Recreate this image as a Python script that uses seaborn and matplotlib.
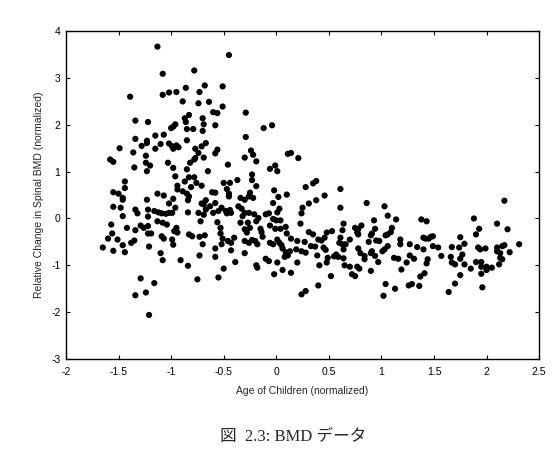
import matplotlib
matplotlib.use("Agg")
import matplotlib.pyplot as plt
import seaborn as sns
import pandas as pd

age = [
    -1.13, -1.08, -0.78, -1.39, -1.08, -1.02, -0.95, -0.86, -0.73, -0.68, -0.89, -0.74, -0.83, -0.87, -0.70, -0.86,
    -0.69, -1.34, -1.22, -0.96, -0.98, -1.00, -0.85, -0.79, -0.70, -1.15, -1.07, -1.34, -1.23, -1.23, -0.85, -1.28,
    -1.15, -1.10, -1.02, -0.99, -0.95, -0.98, -0.93, -0.77, -0.71, -1.49, -1.36, -1.24, -0.74, -0.77, -0.69, -1.58,
    -1.55, -1.24, -1.20, -1.03, -0.82, -0.78, -0.98, -1.35, -1.23, -0.85, -0.96, -0.83, -0.78, -1.44, -0.87, -0.76,
    # block 2
    -1.44, -1.55, -1.50, -1.46, -1.46, -1.55, -1.48, -1.46, -1.57, -1.56, -1.60, -1.51, -1.65, -1.55, -1.46, -1.44,
    -1.42, -1.38, -1.35, -1.34, -1.34, -1.32, -1.29, -1.26, -1.23, -1.22, -1.22, -1.22, -1.22, -1.19, -1.21, -1.13,
    -1.07, -1.16, -1.12, -1.09, -1.05, -1.02, -0.99, -1.13, -1.08, -1.04, -1.09, -1.07, -1.10, -1.08, -0.97, -0.95,
    -0.99, -0.98, -0.94, -1.02, -0.98, -0.96, -0.94, -0.94, -0.89, -0.85, -0.83, -0.84, -0.81, -0.71, -0.84, -0.74,
    -0.71, -0.83, -0.80, -0.73, -0.70, -0.73, -0.91, -0.84, -1.29, -1.16, -0.75, -1.24, -1.34, -1.21,
    # block 3
    -0.45, -0.51, -0.64, -0.51, -0.60, -0.56, -0.29, -0.58, -0.12, -0.04, -0.29, -0.67, -0.56, -0.58, -0.24, -0.22,
    -0.30, -0.19, 0.11, 0.14, 0.21, -0.46, -0.65, -0.06, -0.01, 0.01, -0.23, -0.23, -0.50, -0.44, -0.37,
    # block 4
    -0.19, -0.47, -0.45, -0.45, -0.61, -0.58, -0.25, -0.26, -0.34, -0.30, -0.22, -0.02, 0.02, 0.10, -0.03, -0.67,
    -0.69, -0.63, -0.58, -0.67, -0.69, -0.60, -0.55, -0.52, -0.48, -0.44, -0.47, -0.43, -0.36, -0.33, -0.30, -0.26,
    -0.32, -0.21, -0.17, -0.19, -0.10, -0.07, 0.03, 0.01, -0.03, 0.00, 0.04, -0.06, -0.01, 0.04, 0.09, 0.10,
    -0.34, -0.27, -0.30, -0.25, -0.28, -0.15, -0.14, -0.72, -0.68, -0.56, -0.53, -0.53, -0.51, -0.58, -0.58, -0.52,
    -0.46, -0.43, -0.40, -0.43, -0.39, -0.50, -0.55, -0.30, -0.26, -0.23, -0.20, -0.18, -0.13, -0.30, -0.19, -0.18,
    -0.10, -0.07, -0.06, -0.03, 0.01, 0.03, 0.05, 0.06, 0.09, 0.08, 0.11, 0.13, 0.14, 0.20, 0.19, 0.24,
    0.27, 0.28, 0.01, -0.02, 0.06, 0.14, 0.20, 0.23, 0.24, 0.25, 0.28, 0.31, 0.31, 0.24, 0.28,
    # block 6
    0.35, 0.38, 0.61, 0.46, 0.38, 0.61, 0.86, 1.03, 1.06, 0.93, 1.14, 0.64, 0.63, 0.75, 0.78, 0.81,
    0.77, 0.78, 0.94, 0.91, 0.90, 1.10, 1.09, 1.06, 1.04, 0.35, 0.40, 0.43, 0.46, 0.48, 0.53, 0.33,
    0.37, 0.45, 0.47, 0.39, 0.49, 0.48, 0.41, 0.61, 0.60, 0.63, 0.66, 0.64, 0.57, 0.59, 0.55, 0.64,
    0.70, 0.78, 0.80, 0.84, 0.84, 0.88, 0.95, 0.98, 0.91, 0.90, 0.94, 0.97, 1.01, 1.03, 1.06, 0.65,
    0.70, 0.72, 0.75, 0.77, 0.79, 0.90, 0.52, 0.40, 1.18, 1.18, 1.12, 1.16, 1.27, 1.24, 1.19, 1.27,
    1.31, 1.04, 1.13, 1.02, 1.26, 1.29,
    # block 8
    2.17, 1.38, 1.43, 1.88, 2.10, 1.93, 2.20, 1.90, 1.40, 1.42, 1.45, 1.47, 1.49, 1.75, 1.79, 1.34,
    1.40, 1.49, 1.54, 1.67, 1.74, 1.92, 1.94, 1.99, 2.10, 2.15, 2.17, 2.10, 2.13, 2.22, 2.31, 1.57,
    1.44, 1.43, 1.66, 1.75, 1.77, 1.67, 1.70, 1.79, 1.90, 1.95, 2.13, 2.15, 1.85, 1.95, 2.00, 2.00,
    2.05, 2.12, 1.41, 1.37, 1.36, 1.75, 1.95, 1.70, 1.96, 1.64,
]

bmd_change = [
    3.67, 3.09, 3.16, 2.60, 2.64, 2.69, 2.70, 2.79, 2.70, 2.84, 2.50, 2.46, 2.21, 2.14, 2.14, 2.06,
    2.01, 2.09, 2.06, 2.01, 1.96, 1.93, 1.91, 1.91, 1.87, 1.77, 1.79, 1.70, 1.66, 1.61, 1.67, 1.55,
    1.49, 1.59, 1.60, 1.54, 1.56, 1.49, 1.52, 1.49, 1.54, 1.50, 1.41, 1.34, 1.40, 1.29, 1.30, 1.26,
    1.21, 1.19, 1.13, 1.19, 1.19, 1.26, 1.08, 1.09, 1.01, 1.05, 0.90, 0.88, 0.88, 0.79, 0.79, 0.76,
    # block 2
    0.65, 0.56, 0.53, 0.44, 0.40, 0.25, 0.23, 0.05, -0.13, -0.32, -0.43, -0.45, -0.62, -0.69, -0.57, -0.72,
    -0.20, -0.52, -0.47, -0.25, 0.19, 0.11, -0.15, -0.20, 0.40, 0.19, 0.04, -0.16, -0.32, -0.32, -0.60, 0.53,
    0.49, 0.16, 0.13, 0.11, 0.10, 0.12, 0.12, -0.06, -0.09, -0.13, -0.38, -0.43, -0.74, -0.89, -0.27, -0.20,
    -0.45, -0.56, -0.30, 0.32, 0.42, 0.23, 0.70, 0.62, 0.58, 0.53, 0.47, 0.39, 0.67, 0.70, 0.13, 0.12,
    0.32, -0.34, -0.38, -0.39, -0.55, -0.79, -0.89, -1.01, -1.28, -1.38, -1.30, -1.58, -1.64, -2.06,
    # block 3
    3.49, 2.82, 2.49, 2.39, 2.27, 2.25, 2.26, 1.99, 1.93, 1.99, 1.74, 1.61, 1.47, 1.39, 1.45, 1.36,
    1.30, 1.22, 1.38, 1.40, 1.29, 1.15, 1.01, 1.06, 1.13, 1.01, 0.94, 0.82, 0.76, 0.76, 0.82,
    # block 4
    0.69, 0.63, 0.53, 0.47, 0.56, 0.55, 0.55, 0.47, 0.44, 0.40, 0.44, 0.60, 0.46, 0.51, 0.33, 0.39,
    0.30, 0.26, 0.33, 0.19, 0.08, 0.12, 0.16, 0.23, 0.16, 0.18, 0.11, 0.12, 0.26, 0.21, 0.12, 0.12,
    0.05, 0.09, 0.01, -0.06, 0.09, 0.11, 0.21, 0.13, -0.01, -0.04, -0.04, -0.15, -0.22, -0.22, -0.18, -0.32,
    -0.09, -0.09, -0.23, -0.20, -0.30, -0.22, -0.29, -0.06, -0.36, -0.08, -0.20, -0.32, -0.43, -0.64, -0.82, -0.55,
    -0.48, -0.52, -0.41, -0.68, -0.93, -1.07, -1.26, -0.48, -0.52, -0.46, -0.48, -0.55, -0.39, -0.74, -1.00, -1.05,
    -0.86, -0.91, -0.52, -0.55, -0.45, -0.52, -0.57, -0.64, -0.72, -0.82, -0.79, -0.70, -0.43, -0.48, -0.66, -0.70,
    -0.50, -0.73, -0.94, -1.19, -1.10, -1.16, -0.94, -0.11, 0.11, 0.23, 0.67, 0.32, -0.29, -1.62, -1.55,
    # block 6
    0.75, 0.80, 0.63, 0.49, 0.39, 0.23, 0.33, 0.26, 0.06, -0.04, -0.02, -0.11, -0.25, -0.20, -0.23, -0.15,
    -0.30, -0.34, -0.22, -0.32, -0.36, -0.20, -0.29, -0.34, -0.36, -0.34, -0.45, -0.47, -0.41, -0.30, -0.27, -0.59,
    -0.60, -0.62, -0.67, -0.79, -0.84, -0.94, -1.00, -0.41, -0.52, -0.55, -0.55, -0.66, -0.77, -0.82, -0.81, -0.85,
    -0.45, -0.64, -0.74, -0.80, -0.87, -0.50, -0.47, -0.48, -0.70, -0.74, -0.80, -0.93, -0.70, -0.66, -0.59, -1.00,
    -1.03, -1.19, -1.23, -1.03, -1.07, -1.12, -1.23, -1.43, -0.45, -0.55, -0.84, -0.86, -0.55, -0.94, -1.09, -0.79,
    -0.86, -1.40, -1.50, -1.65, -1.43, -1.40,
    # block 8
    0.38, -0.02, -0.06, 0.00, -0.11, -0.22, -0.23, -0.34, -0.41, -0.43, -0.43, -0.39, -0.38, -0.40, -0.54, -0.61,
    -0.66, -0.59, -0.62, -0.61, -0.62, -0.62, -0.66, -0.64, -0.62, -0.59, -0.57, -0.70, -0.74, -0.72, -0.55, -0.80,
    -0.87, -0.96, -0.82, -0.86, -0.77, -0.94, -0.98, -0.98, -0.93, -0.93, -0.84, -0.87, -1.07, -1.03, -1.03, -1.10,
    -1.05, -0.98, -1.17, -1.24, -1.44, -1.21, -1.18, -1.39, -1.47, -1.57,
]

x_ticks = [-2, -1.5, -1, -0.5, 0, 0.5, 1, 1.5, 2, 2.5]
x_tick_labels = ["-2", "-1.5", "-1", "-0.5", "0", "0.5", "1", "1.5", "2", "2.5"]
y_ticks = [-3, -2, -1, 0, 1, 2, 3, 4]
y_tick_labels = ["-3", "-2", "-1", "0", "1", "2", "3", "4"]

x_label = "Age of Children (normalized)"
y_label = "Relative Change in Spinal BMD (normalized)"
caption = "図  2.3: BMD データ"

n = min(len(age), len(bmd_change))
df = pd.DataFrame({"age": age[:n], "bmd": bmd_change[:n]})

sns.set_style("ticks")
plt.rcParams["font.family"] = ["Liberation Sans", "DejaVu Sans"]

fig = plt.figure(figsize=(5.54, 4.65), dpi=100)
ax = fig.add_axes([0.1191, 0.228, 0.854, 0.705])

sns.scatterplot(data=df, x="age", y="bmd", ax=ax, color="black", s=20,
                edgecolor="none", linewidth=0, legend=False)

ax.set_xlim(-2, 2.5)
ax.set_ylim(-3, 4)
ax.set_xticks(x_ticks)
ax.set_xticklabels(x_tick_labels)
ax.set_yticks(y_ticks)
ax.set_yticklabels(y_tick_labels)
ax.tick_params(direction="in", length=3, width=0.8, labelsize=7.5, colors="black",
               top=True, right=True)
ax.tick_params(axis="x", pad=6)
ax.tick_params(axis="y", pad=4)
for sp in ax.spines.values():
    sp.set_visible(True)
    sp.set_linewidth(1.0)
    sp.set_color("black")

ax.set_xlabel(x_label, fontsize=7.5, labelpad=6)
ax.set_ylabel(y_label, fontsize=7.5, labelpad=5)

fig.text(0.53, 0.06, caption, ha="center", va="center", fontsize=12,
         family=["Liberation Serif", "Noto Sans CJK JP"])

fig.savefig("out.png", dpi=100, facecolor="white")
